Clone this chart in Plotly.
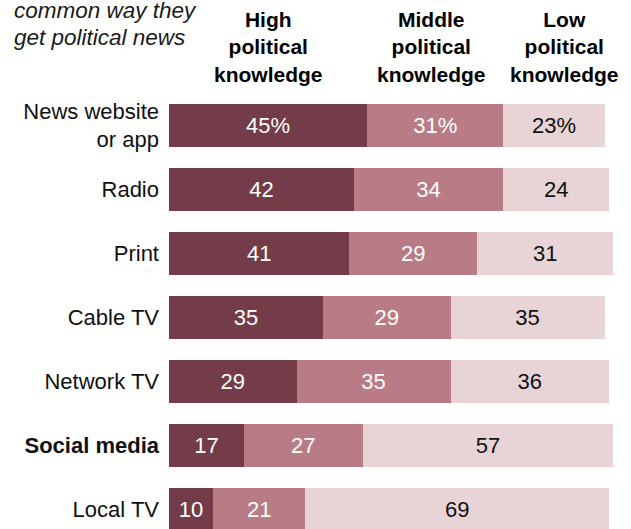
import plotly.graph_objects as go

categories = ["News website<br>or app", "Radio", "Print", "Cable TV",
              "Network TV", "<b>Social media</b>", "Local TV"]
high = [45, 42, 41, 35, 29, 17, 10]
middle = [31, 34, 29, 29, 35, 27, 21]
low = [23, 24, 31, 35, 36, 57, 69]
series_names = ["High political knowledge", "Middle political knowledge", "Low political knowledge"]
header_texts = ["<b>High<br>political<br>knowledge</b>",
                "<b>Middle<br>political<br>knowledge</b>",
                "<b>Low<br>political<br>knowledge</b>"]
title_lines = ["<i>common way they</i>", "<i>get political news</i>"]

W, H = 631, 529
L = 169
FONT = "Liberation Sans, Arial, sans-serif"
colors = ["#733c48", "#b97b86", "#e8d4d7"]
text_colors = ["#ffffff", "#ffffff", "#111111"]

ypos = list(range(len(categories)))

def labels(vals):
    return [f"{v}%" if i == 0 else str(v) for i, v in enumerate(vals)]

fig = go.Figure()
for vals, name, c, tc in zip([high, middle, low], series_names, colors, text_colors):
    fig.add_trace(go.Bar(
        y=ypos, x=vals, orientation="h", name=name,
        marker=dict(color=c, line=dict(width=0)),
        width=0.66,
        text=labels(vals), textposition="inside", insidetextanchor="middle",
        textangle=0,
        textfont=dict(family=FONT, size=22, color=tc),
        hoverinfo="skip",
    ))

def px_x(p):
    return (p - L) / (W - L)

def px_y(p):
    return 1 - p / H

for txt, cx in zip(header_texts, [268, 431, 564]):
    fig.add_annotation(text=txt, x=px_x(cx), y=px_y(47), xref="paper", yref="paper",
                       xanchor="center", yanchor="middle", showarrow=False, align="center",
                       font=dict(family=FONT, size=21, color="#000000"))

for txt, cy in zip(title_lines, [11, 37]):
    fig.add_annotation(text=txt, x=px_x(12), y=px_y(cy), xref="paper", yref="paper",
                       xanchor="left", yanchor="middle", showarrow=False, align="left",
                       font=dict(family=FONT, size=22.5, color="#1a1a1a"))

pitch = 64.0
c0 = 125.5
fig.update_layout(
    width=W, height=H,
    margin=dict(l=L, r=0, t=0, b=0),
    paper_bgcolor="white", plot_bgcolor="white",
    barmode="stack", showlegend=False,
    xaxis=dict(range=[0, (W - L) / 4.4], visible=False, fixedrange=True),
    yaxis=dict(range=[(H - c0) / pitch, -c0 / pitch], tickvals=ypos, ticktext=categories,
               showgrid=False, zeroline=False, showline=False, ticks="",
               ticklabelstandoff=9,
               tickfont=dict(family=FONT, size=22, color="#111111")),
)

fig.write_html("out.html")
